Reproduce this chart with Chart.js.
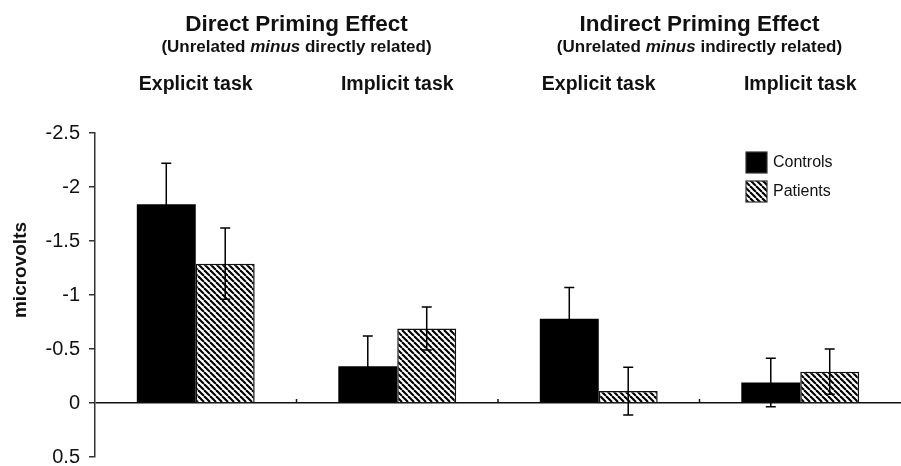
<!DOCTYPE html>
<html>
<head>
<meta charset="utf-8">
<script src="https://cdn.jsdelivr.net/npm/chart.js@4"></script>
<style>
  html, body { margin: 0; padding: 0; background: #fff; }
  #wrap { width: 901px; height: 466px; }
</style>
</head>
<body>
<div id="wrap"><canvas id="chart" width="901" height="466"></canvas></div>
<script>
// data
const categories = ['Explicit task', 'Implicit task', 'Explicit task', 'Implicit task'];
const effectTitles = ['Direct Priming Effect', 'Indirect Priming Effect'];
const effectSubtitles = [
    ['(Unrelated ', 'minus', ' directly related)'],
    ['(Unrelated ', 'minus', ' indirectly related)']
];
const seriesNames = ['Controls', 'Patients'];
const controls = [-1.84, -0.34, -0.78, -0.19];
const controlsErr = [0.38, 0.28, 0.29, 0.225];
const patients = [-1.29, -0.69, -0.11, -0.29];
const patientsErr = [0.33, 0.2, 0.22, 0.21];
const yTicks = [-2.5, -2, -1.5, -1, -0.5, 0, 0.5];
const yTickLabels = ['-2.5', '-2', '-1.5', '-1', '-0.5', '0', '0.5'];
const yTitle = 'microvolts';

const FONT = '"Liberation Sans", Arial, sans-serif';
const INK = '#111';

// diagonal hatch for the patients bars
function makeHatch() {
    const s = 6;
    const c = document.createElement('canvas');
    c.width = s; c.height = s;
    const g = c.getContext('2d');
    g.fillStyle = '#fff';
    g.fillRect(0, 0, s, s);
    g.strokeStyle = '#000';
    g.lineWidth = 2.1;
    for (const x0 of [-s, 0, s]) {
        g.beginPath();
        g.moveTo(x0, 0);
        g.lineTo(x0 + s, s);
        g.stroke();
    }
    return g.createPattern(c, 'repeat');
}
const hatch = makeHatch();

const errorBars = {
    id: 'errorBars',
    afterDatasetsDraw(chart) {
        const ctx = chart.ctx;
        const y = chart.scales.y;
        const errs = [controlsErr, patientsErr];
        ctx.save();
        ctx.strokeStyle = '#000';
        ctx.lineWidth = 1.5;
        chart.data.datasets.forEach((ds, di) => {
            chart.getDatasetMeta(di).data.forEach((bar, i) => {
                const v = ds.data[i], e = errs[di][i];
                const top = y.getPixelForValue(v - e);
                const bot = y.getPixelForValue(v + e);
                ctx.beginPath();
                ctx.moveTo(bar.x, top); ctx.lineTo(bar.x, bot);
                ctx.moveTo(bar.x - 5, top); ctx.lineTo(bar.x + 5, top);
                ctx.moveTo(bar.x - 5, bot); ctx.lineTo(bar.x + 5, bot);
                ctx.stroke();
            });
        });
        ctx.restore();
    }
};

const headers = {
    id: 'headers',
    afterDraw(chart) {
        const ctx = chart.ctx;
        const x = chart.scales.x;
        const y = chart.scales.y;
        ctx.save();
        ctx.fillStyle = INK;
        ctx.textBaseline = 'alphabetic';

        // small ticks between categories on the zero line
        const y0 = y.getPixelForValue(0);
        ctx.strokeStyle = INK;
        ctx.lineWidth = 1.5;
        for (let i = 0; i < categories.length - 1; i++) {
            const bx = (x.getPixelForValue(i) + x.getPixelForValue(i + 1)) / 2;
            ctx.beginPath();
            ctx.moveTo(bx, y0); ctx.lineTo(bx, y0 - 4);
            ctx.stroke();
        }

        // effect titles, centred over each pair of categories
        effectTitles.forEach((t, k) => {
            const cx = (x.getPixelForValue(2 * k) + x.getPixelForValue(2 * k + 1)) / 2;
            ctx.textAlign = 'center';
            ctx.font = 'bold 22.5px ' + FONT;
            ctx.fillText(t, cx, 31);

            const parts = effectSubtitles[k];
            const fonts = ['bold 17px ' + FONT, 'italic bold 17px ' + FONT, 'bold 17px ' + FONT];
            let w = 0;
            parts.forEach((p, j) => { ctx.font = fonts[j]; w += ctx.measureText(p).width; });
            let px = cx - w / 2;
            ctx.textAlign = 'left';
            parts.forEach((p, j) => {
                ctx.font = fonts[j];
                ctx.fillText(p, px, 52);
                px += ctx.measureText(p).width;
            });
        });

        // task labels over each category
        ctx.textAlign = 'center';
        ctx.font = 'bold 19.5px ' + FONT;
        categories.forEach((c, i) => ctx.fillText(c, x.getPixelForValue(i), 90));

        // y axis title, rotated
        ctx.save();
        ctx.translate(21, 270);
        ctx.rotate(-Math.PI / 2);
        ctx.textBaseline = 'middle';
        ctx.font = 'bold 19px ' + FONT;
        ctx.fillText(yTitle, 0, 0);
        ctx.restore();

        // legend
        const boxes = [{ fill: '#000' }, { fill: hatch }];
        ctx.textAlign = 'left';
        ctx.textBaseline = 'middle';
        ctx.font = '16px ' + FONT;
        seriesNames.forEach((n, i) => {
            const ty = 152 + i * 29;
            ctx.fillStyle = boxes[i].fill;
            ctx.fillRect(746, ty, 21, 21);
            ctx.strokeStyle = '#333';
            ctx.lineWidth = 1.2;
            ctx.strokeRect(746, ty, 21, 21);
            ctx.fillStyle = INK;
            ctx.fillText(n, 773, ty + 11);
        });
        ctx.restore();
    }
};

new Chart(document.getElementById('chart'), {
    type: 'bar',
    data: {
        labels: categories,
        datasets: [{
            label: seriesNames[0],
            data: controls,
            backgroundColor: '#000',
            borderColor: '#000',
            borderWidth: 0
        }, {
            label: seriesNames[1],
            data: patients,
            backgroundColor: hatch,
            borderColor: '#111',
            borderWidth: 1.5
        }]
    },
    options: {
        responsive: false,
        devicePixelRatio: 1,
        animation: false,
        layout: { autoPadding: false, padding: { top: 133, right: 0, bottom: 9, left: 0 } },
        datasets: {
            bar: { barPercentage: 1, categoryPercentage: 0.585 }
        },
        scales: {
            x: { display: false },
            y: {
                reverse: true,
                min: -2.5,
                max: 0.5,
                afterBuildTicks(scale) {
                    scale.ticks = yTicks.map(v => ({ value: v }));
                },
                afterFit(scale) {
                    scale.width = 95;
                    scale.paddingTop = 0;
                    scale.paddingBottom = 0;
                },
                ticks: {
                    color: INK,
                    font: { family: FONT, size: 20 },
                    padding: 9,
                    callback: (v, i) => yTickLabels[i]
                },
                grid: {
                    drawOnChartArea: true,
                    color: c => (c.tick && c.tick.value === 0) ? INK : 'rgba(0,0,0,0)',
                    lineWidth: 1.5,
                    tickColor: '#333',
                    tickLength: 6,
                    tickWidth: 1.5
                },
                border: { color: '#333', width: 1.5 },
                title: { display: false }
            }
        },
        plugins: {
            legend: { display: false },
            tooltip: { enabled: false }
        }
    },
    plugins: [errorBars, headers]
});
</script>
</body>
</html>
